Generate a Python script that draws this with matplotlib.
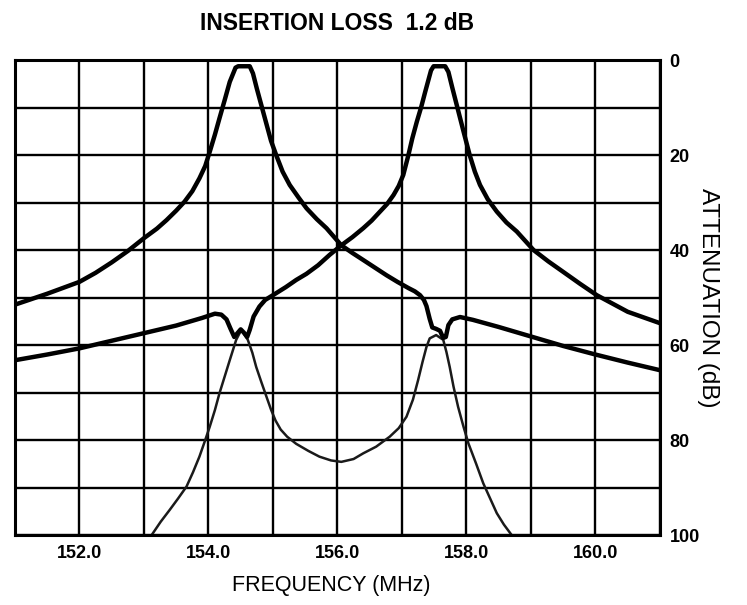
import matplotlib.pyplot as plt

plt.rcParams['font.family'] = ['Liberation Sans', 'DejaVu Sans']

# low channel passband (peak near 154.5 MHz)
freq_a = [151.0, 151.5, 152.0, 152.25, 152.5, 152.75, 153.0, 153.2, 153.35, 153.5,
          153.63, 153.75, 153.86, 153.95, 154.02, 154.1, 154.17, 154.25, 154.33, 154.42,
          154.46, 154.64, 154.69, 154.75, 154.82, 154.9, 154.97, 155.05, 155.15, 155.26,
          155.4, 155.52, 155.68, 155.83, 156.06, 156.23, 156.4, 156.58, 156.76, 156.93,
          157.1, 157.2, 157.28, 157.34, 157.38, 157.43, 157.47, 157.53, 157.59, 157.64,
          157.68, 157.72, 157.78, 157.9, 158.1, 158.5, 159.0, 159.5, 160.0, 160.5,
          161.0]
att_a = [51.5, 49.2, 46.7, 44.8, 42.6, 40.2, 37.5, 35.5, 33.7, 31.7,
         29.8, 27.6, 24.9, 22.3, 19.3, 15.7, 12.3, 8.5, 4.6, 1.6,
         1.3, 1.3, 2.8, 6.0, 9.5, 13.5, 17.0, 20.0, 23.5, 26.3,
         29.0, 31.2, 33.5, 35.4, 39.0, 40.6, 42.1, 43.7, 45.3, 46.7,
         48.0, 48.7, 49.5, 50.5, 51.8, 54.5, 56.3, 56.6, 57.0, 58.5,
         58.3, 55.8, 54.6, 54.1, 54.7, 56.2, 58.2, 60.2, 62.0, 63.7,
         65.3]

# high channel passband (peak near 157.5 MHz)
freq_b = [151.0, 151.5, 152.0, 152.5, 153.0, 153.5, 153.9, 154.1, 154.2, 154.28,
          154.34, 154.4, 154.45, 154.5, 154.55, 154.6, 154.64, 154.7, 154.79, 154.88,
          155.0, 155.2, 155.36, 155.52, 155.7, 155.88, 156.06, 156.23, 156.4, 156.53,
          156.66, 156.77, 156.87, 156.95, 157.02, 157.1, 157.16, 157.23, 157.3, 157.36,
          157.45, 157.49, 157.67, 157.72, 157.78, 157.85, 157.95, 158.05, 158.13, 158.21,
          158.33, 158.47, 158.62, 158.78, 159.04, 159.27, 159.5, 159.76, 160.02, 160.5,
          161.0]
att_b = [63.2, 62.0, 60.7, 59.1, 57.5, 55.9, 54.3, 53.4, 53.6, 54.6,
         56.5, 58.3, 57.5, 56.7, 57.4, 58.3, 56.8, 54.0, 51.9, 50.5,
         49.5, 47.8, 46.3, 45.0, 43.2, 41.0, 39.0, 37.3, 35.4, 33.8,
         31.9, 30.3, 28.4, 26.5, 24.2, 20.0, 16.5, 13.0, 9.8, 6.7,
         2.2, 1.3, 1.3, 2.5, 5.8, 9.5, 14.8, 20.0, 23.5, 26.3,
         29.3, 31.9, 34.2, 36.1, 40.0, 42.4, 44.6, 47.1, 49.5, 53.0,
         55.4]

# isolation curve (thin)
freq_c = [153.12, 153.26, 153.4, 153.53, 153.66, 153.76, 153.86, 153.94, 154.02, 154.1,
          154.17, 154.25, 154.33, 154.43, 154.51, 154.61, 154.68, 154.74, 154.82, 154.9,
          154.97, 155.04, 155.12, 155.22, 155.36, 155.55, 155.72, 155.9, 156.06, 156.25,
          156.4, 156.6, 156.81, 156.95, 157.07, 157.17, 157.25, 157.32, 157.38, 157.43,
          157.53, 157.64, 157.69, 157.74, 157.8, 157.87, 157.95, 158.03, 158.15, 158.26,
          158.37, 158.47, 158.58, 158.7]
att_c = [100.0, 97.2, 94.7, 92.3, 89.8, 86.8, 83.5, 80.4, 77.2, 73.7,
         70.2, 66.7, 63.2, 58.9, 56.8, 58.9, 61.6, 64.6, 67.8, 70.9,
         73.6, 75.9, 77.8, 79.3, 80.8, 82.3, 83.5, 84.3, 84.6, 84.0,
         82.8, 81.4, 79.3, 77.5, 75.1, 71.5, 67.4, 63.5, 60.4, 58.6,
         57.9, 58.9, 61.5, 64.6, 68.8, 73.0, 77.0, 80.7, 85.0, 89.1,
         92.4, 95.4, 97.8, 100.0]

x_ticks = list(range(151, 162))
x_labels = ['', '152.0', '', '154.0', '', '156.0', '', '158.0', '', '160.0', '']
y_ticks = list(range(0, 101, 10))
y_labels = ['0', '', '20', '', '40', '', '60', '', '80', '', '100']

fig = plt.figure(figsize=(7.47, 6.05), dpi=100)
ax = fig.add_axes([0.020, 0.1157, 0.8635, 0.785])

ax.plot(freq_a, att_a, color='black', lw=3.2, solid_joinstyle='round', solid_capstyle='round', zorder=3)
ax.plot(freq_b, att_b, color='black', lw=3.2, solid_joinstyle='round', solid_capstyle='round', zorder=3)
ax.plot(freq_c, att_c, color='#1a1a1a', lw=1.8, solid_joinstyle='round', zorder=2)

ax.set_xlim(151, 161)
ax.set_ylim(100, 0)
ax.set_xticks(x_ticks)
ax.set_xticklabels(x_labels)
ax.set_yticks(y_ticks)
ax.set_yticklabels(y_labels)
ax.yaxis.tick_right()
ax.tick_params(length=0, labelsize=13, pad=7)
for lbl in ax.get_xticklabels() + ax.get_yticklabels():
    lbl.set_fontweight('bold')
ax.grid(True, color='black', lw=1.7)
ax.set_axisbelow(True)
for s in ax.spines.values():
    s.set_linewidth(2.2)

ax.set_xlabel('FREQUENCY (MHz)', fontsize=15.5)
ax.xaxis.set_label_coords(0.49, -0.085)
ax.yaxis.set_label_position('right')
ax.set_ylabel('ATTENUATION (dB)', fontsize=17.5, rotation=-90)
ax.yaxis.set_label_coords(1.092, 0.5)
ax.set_title('INSERTION LOSS  1.2 dB', fontsize=16.5, fontweight='bold', pad=22)

fig.savefig('out.png', dpi=100)
